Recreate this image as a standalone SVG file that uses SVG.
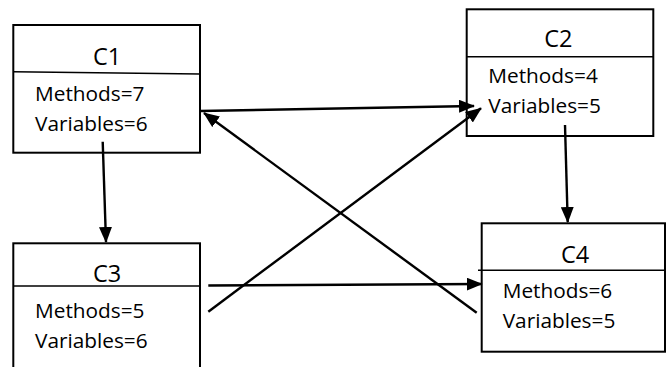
<svg xmlns="http://www.w3.org/2000/svg" width="670" height="367" viewBox="0 0 670 367">
<style>
.box{fill:#fff;stroke:#000;stroke-width:2}
.div{stroke:#000;stroke-width:1.6}
.t{font-family:"Open Sans","Liberation Sans",sans-serif;fill:#000}
.title{font-size:23.5px;text-anchor:middle}
.attr{font-size:20.8px}
.c{stroke:#000;stroke-width:2.4;fill:none;marker-end:url(#ah)}
</style>
<defs>
<marker id="ah" markerUnits="userSpaceOnUse" markerWidth="16" markerHeight="13" refX="15" refY="6.5" orient="auto" viewBox="0 0 16 13">
<path d="M0,0 L16,6.5 L0,13 z" fill="#000"/>
</marker>
</defs>
<rect width="670" height="367" fill="#fff"/>
<g id="C1">
<rect class="box" x="13.3" y="25" width="186.7" height="127.7"/>
<line class="div" x1="13.3" y1="71.7" x2="200" y2="74"/>
<text class="t title" x="107" y="65">C1</text>
<text class="t attr" x="35" y="101">Methods=7</text>
<text class="t attr" x="35" y="131">Variables=6</text>
</g>
<g id="C2">
<rect class="box" x="466.7" y="9.3" width="186.6" height="126.7"/>
<line class="div" x1="466.7" y1="56.7" x2="653.3" y2="56.7"/>
<text class="t title" x="558.3" y="46.7">C2</text>
<text class="t attr" x="488.3" y="83.3">Methods=4</text>
<text class="t attr" x="488.3" y="113.3">Variables=5</text>
</g>
<g id="C3">
<rect class="box" x="13.3" y="243.3" width="186.7" height="130"/>
<line class="div" x1="13.3" y1="286" x2="200" y2="286"/>
<text class="t title" x="107" y="281.7">C3</text>
<text class="t attr" x="35" y="318.3">Methods=5</text>
<text class="t attr" x="35" y="348.3">Variables=6</text>
</g>
<g id="C4">
<rect class="box" x="481.7" y="223.3" width="183.3" height="128.4"/>
<line class="div" x1="478" y1="270.3" x2="665" y2="270.3"/>
<text class="t title" x="575" y="263.3">C4</text>
<text class="t attr" x="502.7" y="298.3">Methods=6</text>
<text class="t attr" x="502.7" y="328.3">Variables=5</text>
</g>
<g id="connectors">
<line class="c" x1="200" y1="111" x2="474" y2="106"/>
<line class="c" x1="476.7" y1="312.7" x2="204" y2="113"/>
<line class="c" x1="208.3" y1="311.7" x2="481" y2="108.3"/>
<line class="c" x1="208.3" y1="285.5" x2="481.7" y2="284"/>
<line class="c" x1="102.7" y1="141.7" x2="106" y2="242"/>
<line class="c" x1="565" y1="125" x2="567.7" y2="222"/>
</g>
</svg>
